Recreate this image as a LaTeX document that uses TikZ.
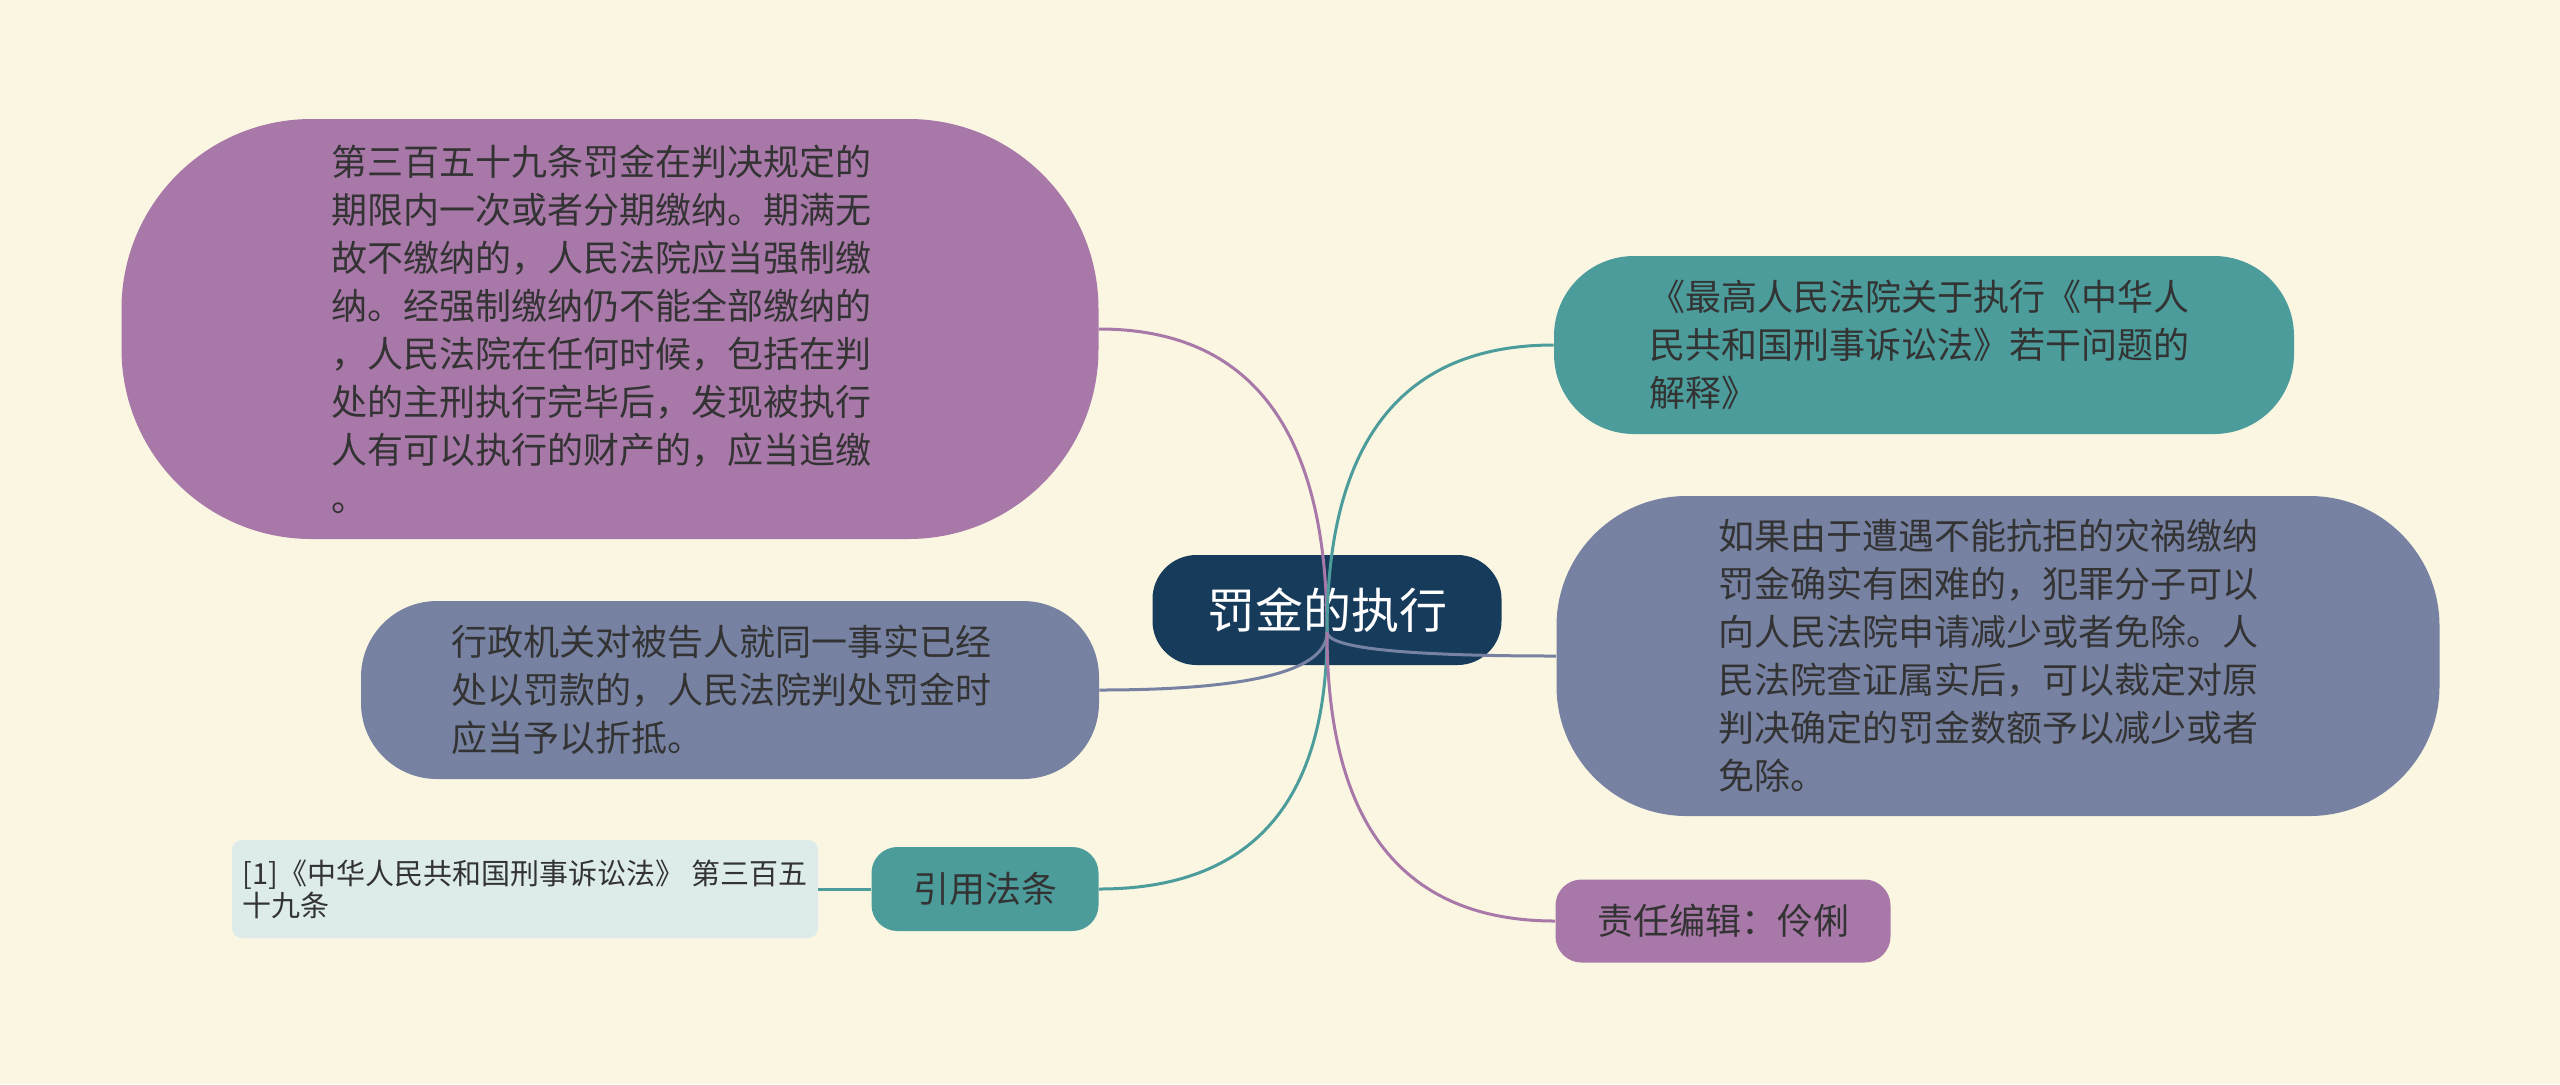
\documentclass[tikz,border=0pt]{standalone}
\usepackage{fontspec}
\setmainfont{Noto Sans CJK SC}
\usetikzlibrary{calc}
\definecolor{bgcream}{HTML}{FAF6E2}
\definecolor{rootblue}{HTML}{173B5B}
\definecolor{plum}{HTML}{A878A9}
\definecolor{sea}{HTML}{4B9C9B}
\definecolor{slate}{HTML}{7782A3}
\definecolor{pale}{HTML}{DDEBEB}
\definecolor{ink}{HTML}{333333}

\begin{document}
\begin{tikzpicture}[x=0.5pt,y=-0.5pt,
    every node/.style={align=left, text=ink, inner sep=0pt},
    bubble/.style={fill=#1, rounded corners=38pt, text width=279pt, font=\fontsize{18pt}{24pt}\selectfont},
    tag/.style={fill=#1, rounded corners=13pt, font=\fontsize{18pt}{24pt}\selectfont},
    wire/.style={draw=#1, line width=1.5pt},
    branch/.style={to path={.. controls ($(\tikztostart)!2/3!(\tikztostart |- \tikztotarget)$)
        and ($(\tikztotarget)!2/3!(\tikztostart |- \tikztotarget)$) .. (\tikztotarget)}}]
        \useasboundingbox (0,0) rectangle (2560,1084);
        \fill[bgcream] (0,0) rectangle (2560,1084);

        \node[fill=rootblue, text=white, rounded corners=22pt, minimum width=174.5pt, minimum height=55pt,
            font=\fontsize{24pt}{28pt}\selectfont] (root) at (1327,610) {罚金的执行};

        \node[bubble=plum, rounded corners=95pt, minimum width=488.5pt, minimum height=210pt] (law) at (610,329)
            {第三百五十九条罚金在判决规定的\\期限内一次或者分期缴纳。期满无\\故不缴纳的，人民法院应当强制缴\\纳。经强制缴纳仍不能全部缴纳的\\，人民法院在任何时候，包括在判\\处的主刑执行完毕后，发现被执行\\人有可以执行的财产的，应当追缴\\。};
        \node[bubble=sea, rounded corners=40pt, text width=275pt, minimum width=370pt, minimum height=89pt] (interp) at (1924,345)
            {《最高人民法院关于执行《中华人\\民共和国刑事诉讼法》若干问题的\\解释》};
        \node[bubble=slate, rounded corners=65pt, text width=280pt, minimum width=441.5pt, minimum height=160pt] (relief) at (1998,656)
            {如果由于遭遇不能抗拒的灾祸缴纳\\罚金确实有困难的，犯罪分子可以\\向人民法院申请减少或者免除。人\\民法院查证属实后，可以裁定对原\\判决确定的罚金数额予以减少或者\\免除。};
        \node[bubble=slate, minimum width=369pt, minimum height=89pt] (offset) at (730,690)
            {行政机关对被告人就同一事实已经\\处以罚款的，人民法院判处罚金时\\应当予以折抵。};
        \node[tag=sea, minimum width=113.5pt, minimum height=42pt] (cite) at (985,889) {引用法条};
        \node[fill=pale, rounded corners=5pt, minimum width=293pt, minimum height=49pt,
            font=\fontsize{14.5pt}{16pt}\selectfont] (ref) [left of = cite, node distance=230pt]
            {[1]《中华人民共和国刑事诉讼法》 第三百五\\十九条};
        \node[tag=plum, minimum width=167.5pt, minimum height=41.5pt] (editor) at (1723,921) {责任编辑：伶俐};

        % branches from the hub
        \coordinate (hub) at (1327,632);
        \path[branch] (hub) edge[wire=plum] (law.east)
            edge[wire=sea] (interp.west)
            edge[wire=slate] (relief.west)
            edge[wire=slate] (offset.east)
            edge[wire=sea] (cite.east)
            edge[wire=plum] (editor.west);
        \draw[wire=sea] (cite) -- (ref);
\end{tikzpicture}
\end{document}
